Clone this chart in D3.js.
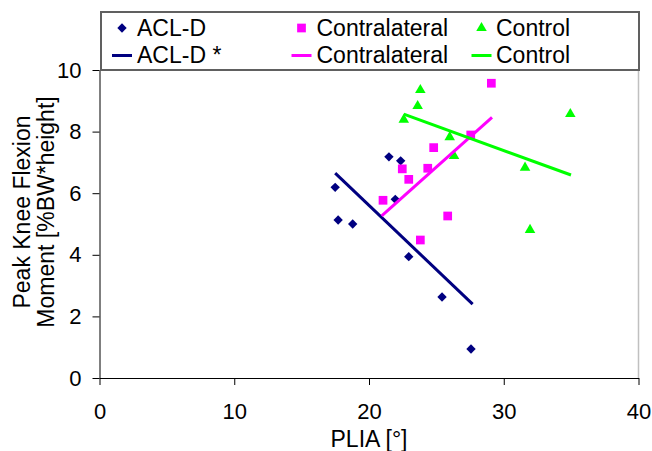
<!DOCTYPE html>
<html>
<head>
<meta charset="utf-8">
<script src="https://cdn.jsdelivr.net/npm/d3@7"></script>
<style>
  body { margin: 0; background: #fff; }
  svg text { font-family: "Liberation Sans", Arial, sans-serif; fill: #000; }
</style>
</head>
<body>
<div id="chart"></div>
<script>
// PLIA (deg) vs peak knee flexion moment
const aclX = [17.49, 17.71, 18.79, 21.48, 22.35, 21.95, 22.95, 25.42, 27.57];
const aclY = [6.19, 5.13, 5.0, 7.18, 7.05, 5.8, 3.94, 2.63, 0.94];
const contraX = [29.08, 24.8, 27.55, 22.47, 24.36, 22.95, 21.04, 25.84, 23.81];
const contraY = [9.57, 7.48, 7.89, 6.79, 6.81, 6.45, 5.77, 5.26, 4.48];
const controlX = [23.81, 23.61, 22.58, 34.94, 25.99, 26.31, 31.58, 31.95];
const controlY = [9.35, 8.83, 8.39, 8.57, 7.82, 7.21, 6.83, 4.81];

// trend line end points [x0, x1] / [y0, y1]
const aclLineX = [17.49, 27.69], aclLineY = [6.65, 2.4];
const contraLineX = [20.94, 29.13], contraLineY = [5.26, 8.46];
const controlLineX = [22.58, 34.99], controlLineY = [8.57, 6.59];

const xTicks = [0, 10, 20, 30, 40];
const yTicks = [0, 2, 4, 6, 8, 10];

const width = 652, height = 451;
const margin = { top: 70, right: 13.5, bottom: 73, left: 99.5 };

const svg = d3.select("#chart").append("svg")
  .attr("width", width)
  .attr("height", height);

const x = d3.scaleLinear().domain([0, 40]).range([margin.left, width - margin.right]);
const y = d3.scaleLinear().domain([0, 10]).range([height - margin.bottom, margin.top]);

// right border of plot area
svg.append("line")
  .attr("x1", x(40)).attr("x2", x(40))
  .attr("y1", y(10)).attr("y2", y(0))
  .attr("stroke", "#c0c0c0").attr("stroke-width", 1.5);

const xAxis = svg.append("g")
  .attr("transform", `translate(0,${y(0)})`)
  .call(d3.axisBottom(x).tickValues(xTicks).tickSizeInner(7).tickSizeOuter(0).tickPadding(18));
const yAxis = svg.append("g")
  .attr("transform", `translate(${x(0)},0)`)
  .call(d3.axisLeft(y).tickValues(yTicks).tickSizeInner(7).tickSizeOuter(0).tickPadding(11));

[xAxis, yAxis].forEach(a => {
  a.selectAll("text").attr("font-size", 22).attr("font-family", "Liberation Sans, Arial, sans-serif");
  a.selectAll("line,path").attr("stroke", "#000");
});

// trend lines
const series = [
  { xs: aclX, ys: aclY, lx: aclLineX, ly: aclLineY, color: "#000080", shape: "diamond" },
  { xs: contraX, ys: contraY, lx: contraLineX, ly: contraLineY, color: "#ff00ff", shape: "square" },
  { xs: controlX, ys: controlY, lx: controlLineX, ly: controlLineY, color: "#00ff00", shape: "triangle" }
];

const symbolPath = shape => {
  if (shape === "diamond") return d3.symbol(d3.symbolSquare, 44)();
  if (shape === "square") return d3.symbol(d3.symbolSquare, 76)();
  return d3.symbol(d3.symbolTriangle, 48)();
};
const rot = shape => (shape === "diamond" ? " rotate(45)" : "");

series.forEach(s => {
  svg.append("g").selectAll("path")
    .data(s.xs.map((d, i) => [d, s.ys[i]]))
    .enter()
    .append("path")
    .attr("d", symbolPath(s.shape))
    .attr("transform", d => `translate(${x(d[0])},${y(d[1])})${rot(s.shape)}`)
    .attr("fill", s.color);
});

series.forEach(s => {
  svg.append("line")
    .attr("x1", x(s.lx[0])).attr("y1", y(s.ly[0]))
    .attr("x2", x(s.lx[1])).attr("y2", y(s.ly[1]))
    .attr("stroke", s.color)
    .attr("stroke-width", 3);
});

// legend
const legend = svg.append("g");
legend.append("rect")
  .attr("x", 101).attr("y", 12)
  .attr("width", 538).attr("height", 58)
  .attr("fill", "#fff")
  .attr("stroke", "#606060")
  .attr("stroke-width", 2);

const legendCols = [
  { mx: 122, tx: 137, label: "ACL-D", lineLabel: "ACL-D *" },
  { mx: 301.5, tx: 316.5, label: "Contralateral", lineLabel: "Contralateral" },
  { mx: 481.5, tx: 496, label: "Control", lineLabel: "Control" }
];

legendCols.forEach((c, i) => {
  const s = series[i];
  legend.append("path")
    .attr("d", symbolPath(s.shape))
    .attr("transform", `translate(${c.mx},28)${rot(s.shape)}`)
    .attr("fill", s.color);
  legend.append("text")
    .attr("x", c.tx).attr("y", 36)
    .attr("font-size", 23)
    .text(c.label);
  legend.append("line")
    .attr("x1", c.mx - 10).attr("x2", c.mx + 10)
    .attr("y1", 55.5).attr("y2", 55.5)
    .attr("stroke", s.color).attr("stroke-width", 3);
  legend.append("text")
    .attr("x", c.tx).attr("y", 63)
    .attr("font-size", 23)
    .text(c.lineLabel);
});

// axis titles
svg.append("text")
  .attr("x", x(20)).attr("y", 447)
  .attr("text-anchor", "middle")
  .attr("font-size", 23)
  .text("PLIA [°]");

const yTitle = svg.append("text")
  .attr("transform", "translate(0,212) rotate(-90)")
  .attr("text-anchor", "middle")
  .attr("font-size", 23);
yTitle.append("tspan").attr("x", 0).attr("y", 30).text("Peak Knee Flexion");
yTitle.append("tspan").attr("x", 0).attr("y", 54).text("Moment [%BW*height]");
</script>
</body>
</html>
